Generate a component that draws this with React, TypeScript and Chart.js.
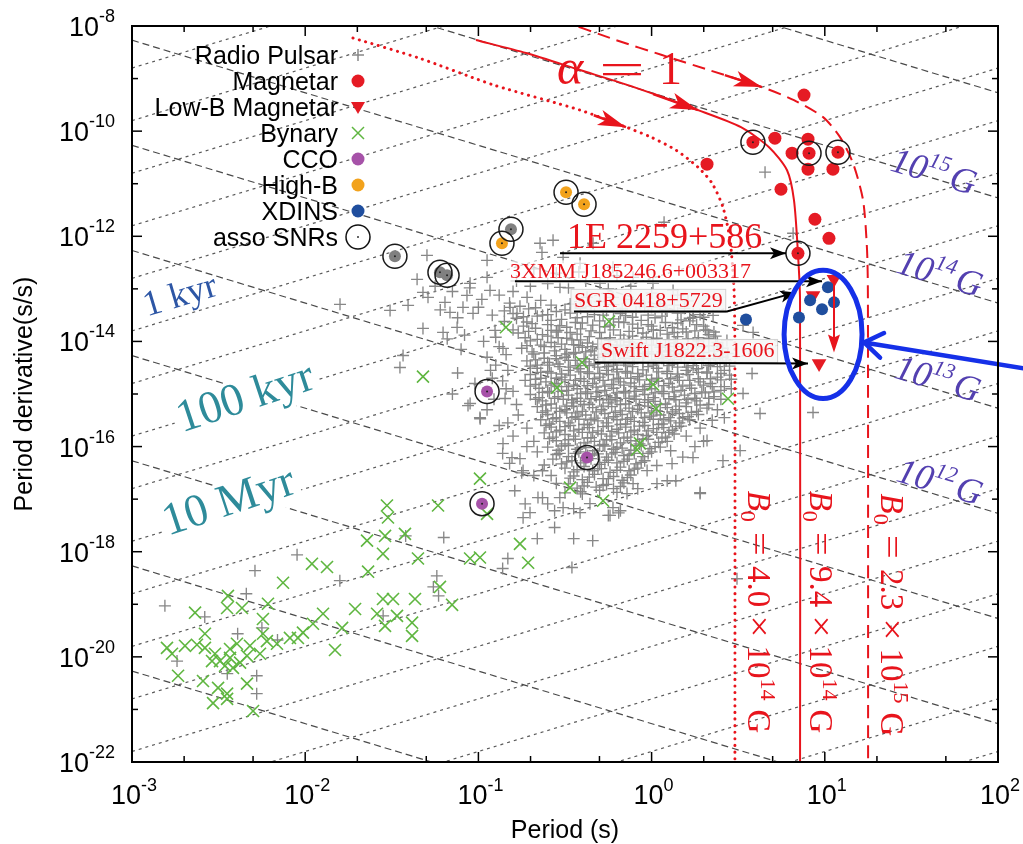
import React, { useEffect, useRef } from "react";
import { Chart, registerables } from "chart.js";

Chart.register(...registerables);

// ---------- axes ----------
const xRange = [1e-3, 1e2];
const yRange = [1e-22, 1e-8];
const xTickExponents = [-3, -2, -1, 0, 1, 2];
const yTickExponents = [-8, -10, -12, -14, -16, -18, -20, -22];
const xMinorMantissas = [2, 5];

// ---------- guide lines: [log10 Pdot at P = xRange[0], log10 Pdot at P = xRange[1]] ----------
const bFieldLines: [number, number][] = [
  [-4.27, -9.27], [-6.27, -11.27], [-8.27, -13.27], [-10.27, -15.27], [-12.27, -17.27],
  [-14.27, -19.27], [-16.27, -21.27], [-18.27, -23.27], [-20.27, -25.27],
];
const ageLines: [number, number][] = [
  [-8.8, -3.8], [-9.8, -4.8], [-10.8, -5.8], [-11.8, -6.8], [-12.8, -7.8], [-13.8, -8.8],
  [-14.8, -9.8], [-15.8, -10.8], [-16.8, -11.8], [-17.8, -12.8], [-18.8, -13.8], [-19.8, -14.8],
  [-20.8, -15.8], [-21.8, -16.8], [-22.8, -17.8], [-23.8, -18.8], [-24.8, -19.8], [-25.8, -20.8],
  [-26.8, -21.8],
];

// ---------- evolutionary tracks (log10 P, log10 Pdot) ----------
const trackDotted: [number, number][] = [
  [-1.724, -8.229], [-1.343, -8.61], [-0.91, -9.124], [-0.413, -9.6], [-0.148, -9.924], [-0.003, -10.114],
  [0.141, -10.362], [0.268, -10.686], [0.349, -10.99], [0.412, -11.448], [0.453, -12.076], [0.476, -13.029],
  [0.481, -14.362], [0.481, -22.5],
];
const trackSolid: [number, number][] = [
  [-1.014, -8.267], [-0.725, -8.514], [-0.413, -8.838], [-0.102, -9.162], [0.268, -9.6], [0.516, -9.924],
  [0.678, -10.305], [0.782, -10.743], [0.822, -11.314], [0.845, -12.324], [0.857, -13.219], [0.857, -22.5],
];
const trackDashed: [number, number][] = [
  [-0.529, -7.886], [-0.206, -8.267], [0.06, -8.552], [0.331, -8.838], [0.637, -9.162], [0.822, -9.41],
  [0.99, -9.733], [1.088, -10.114], [1.163, -10.61], [1.221, -11.314], [1.244, -12.267], [1.249, -13.219],
  [1.25, -22.5],
];
const trackArrowFrom: [number, number][] = [[-0.413, -9.6], [-0.102, -9.162], [0.331, -8.838]];
const trackArrowTip: [number, number][] = [[-0.148, -9.924], [0.268, -9.6], [0.637, -9.162]];

// ---------- populations (log10 P, log10 Pdot) ----------
const magnetars: [number, number][] = [
  [0.32, -10.629], [0.585, -10.21], [0.712, -10.133], [0.903, -10.152], [0.88, -9.314], [0.811, -10.419],
  [0.909, -10.419], [1.076, -10.4], [0.903, -10.724], [1.047, -10.724], [0.747, -11.105], [0.943, -11.676],
  [1.024, -12.038], [0.845, -12.324],
];
const lowBMagnetars: [number, number][] = [[1.053, -12.819], [0.932, -13.124], [0.967, -14.419]];
const xdins: [number, number][] = [
  [1.018, -12.971], [0.915, -13.219], [1.053, -13.257], [0.984, -13.39], [0.851, -13.543], [0.545, -13.581],
];
const highB: [number, number][] = [[-0.494, -11.162], [-0.39, -11.39], [-0.864, -12.133]];
const cco: [number, number][] = [[-0.95, -14.952], [-0.373, -16.21], [-0.979, -17.086]];
const snrPulsars: [number, number][] = [[-1.482, -12.381], [-1.222, -12.686], [-1.181, -12.743], [-0.812, -11.867]];
const assoSNRs: [number, number][] = [
  [0.585, -10.21], [0.909, -10.419], [1.076, -10.4], [0.845, -12.324],
  [-0.494, -11.162], [-0.39, -11.39], [-0.864, -12.133],
  [-1.482, -12.381], [-1.222, -12.686], [-1.181, -12.743], [-0.812, -11.867],
  [-0.95, -14.952], [-0.373, -16.21], [-0.979, -17.086],
];
const binaries: [number, number][] = [
  [-1.528, -17.12], [-1.522, -17.35], [-1.233, -17.12], [-0.95, -17.28], [-0.471, -16.78], [-0.28, -17.03],
  [-1.643, -17.79], [-1.539, -17.7], [-1.424, -17.66], [-1.551, -18.04], [-1.349, -18.13], [-1.048, -18.13],
  [-0.991, -18.11], [-0.76, -17.85], [-0.713, -18.21], [-1.961, -18.23], [-1.874, -18.29], [-2.128, -18.59],
  [-1.637, -18.38], [-1.222, -18.67], [-1.152, -19.01], [-2.446, -18.84], [-2.451, -19.07], [-2.365, -19.07],
  [-2.215, -18.99], [-2.636, -19.16], [-2.244, -19.28], [-1.897, -19.18], [-1.712, -19.09], [-1.551, -18.9],
  [-1.493, -18.9], [-1.366, -18.9], [-1.585, -19.18], [-1.47, -19.22], [-1.383, -19.35], [-1.383, -19.6],
  [-1.539, -19.41], [-1.787, -19.45], [-1.955, -19.37], [-2.013, -19.54], [-2.088, -19.64], [-2.042, -19.64],
  [-2.244, -19.56], [-2.221, -19.7], [-1.828, -19.87], [-2.579, -19.56], [-2.694, -19.79], [-2.625, -19.77],
  [-2.798, -19.83], [-2.769, -19.94], [-2.521, -19.94], [-2.492, -20.08], [-2.434, -20.02], [-2.376, -20.11],
  [-2.336, -19.98], [-2.261, -19.94], [-2.434, -19.85], [-2.394, -19.75], [-2.734, -20.36], [-2.59, -20.46],
  [-2.503, -20.59], [-2.451, -20.7], [-2.532, -20.88], [-2.451, -20.8], [-2.336, -20.51], [-2.301, -21.03],
  [-2.579, -19.83], [-2.538, -20.08], [-2.463, -20.17], [-2.417, -20.21], [-2.319, -19.79], [-2.163, -19.75],
  [-0.841, -13.73], [-0.246, -13.62], [-0.402, -14.4], [-0.546, -14.88], [0.008, -14.82], [0.026, -15.28],
  [0.441, -15.09], [-0.067, -15.94], [-0.084, -16.06], [-1.32, -14.67], [-0.991, -16.61],
];
const radioPulsarsCore: [number, number][] = [
  [-0.82, -13.27], [-0.64, -13.22], [-0.47, -13.29], [-0.3, -13.24], [-0.12, -13.2], [0.05, -13.28], [0.21, -13.23],
  [-0.85, -13.42], [-0.71, -13.38], [-0.55, -13.43], [-0.41, -13.37], [-0.26, -13.41], [-0.09, -13.44], [0.08, -13.39], [0.24, -13.42],
  [-0.78, -13.56], [-0.66, -13.52], [-0.52, -13.58], [-0.37, -13.53], [-0.22, -13.57], [-0.15, -13.51], [0.02, -13.55], [0.17, -13.59], [0.3, -13.54],
  [-0.74, -13.71], [-0.6, -13.68], [-0.49, -13.73], [-0.34, -13.69], [-0.27, -13.72], [-0.11, -13.67], [0.0, -13.71], [0.12, -13.74], [0.26, -13.68],
  [-0.77, -13.84], [-0.63, -13.87], [-0.55, -13.82], [-0.43, -13.86], [-0.3, -13.83], [-0.18, -13.88], [-0.05, -13.84], [0.09, -13.86], [0.2, -13.82], [0.33, -13.87],
  [-0.7, -13.99], [-0.58, -14.02], [-0.46, -13.97], [-0.37, -14.03], [-0.24, -13.98], [-0.13, -14.01], [0.01, -13.96], [0.14, -14.03], [0.27, -13.99], [0.38, -14.02],
  [-0.75, -14.13], [-0.62, -14.1], [-0.5, -14.15], [-0.4, -14.11], [-0.29, -14.14], [-0.2, -14.09], [-0.08, -14.13], [0.05, -14.11], [0.18, -14.15], [0.3, -14.1], [0.41, -14.13],
  [-0.68, -14.24], [-0.55, -14.27], [-0.44, -14.22], [-0.33, -14.26], [-0.22, -14.23], [-0.1, -14.28], [0.0, -14.24], [0.11, -14.26], [0.23, -14.22], [0.36, -14.27],
  [-0.72, -14.37], [-0.6, -14.4], [-0.48, -14.36], [-0.38, -14.39], [-0.27, -14.41], [-0.16, -14.37], [-0.05, -14.4], [0.07, -14.36], [0.19, -14.39], [0.29, -14.41], [0.43, -14.37],
  [-0.66, -14.51], [-0.53, -14.48], [-0.42, -14.52], [-0.31, -14.49], [-0.2, -14.53], [-0.11, -14.48], [0.03, -14.51], [0.15, -14.49], [0.26, -14.52], [0.38, -14.48],
  [-0.7, -14.63], [-0.58, -14.6], [-0.47, -14.64], [-0.36, -14.61], [-0.25, -14.63], [-0.14, -14.6], [-0.03, -14.64], [0.09, -14.61], [0.21, -14.63], [0.32, -14.6], [0.45, -14.64],
  [-0.73, -14.74], [-0.61, -14.77], [-0.5, -14.73], [-0.39, -14.76], [-0.28, -14.74], [-0.18, -14.77], [-0.07, -14.73], [0.04, -14.76], [0.16, -14.74], [0.28, -14.77], [0.4, -14.73],
  [-0.65, -14.89], [-0.54, -14.86], [-0.43, -14.9], [-0.32, -14.87], [-0.22, -14.89], [-0.1, -14.86], [0.0, -14.9], [0.12, -14.87], [0.23, -14.89], [0.35, -14.86], [0.46, -14.9],
  [-0.7, -15.01], [-0.59, -14.98], [-0.48, -15.02], [-0.37, -14.99], [-0.26, -15.03], [-0.15, -14.98], [-0.04, -15.01], [0.07, -14.99], [0.19, -15.02], [0.31, -14.98],
  [-0.63, -15.13], [-0.51, -15.1], [-0.41, -15.14], [-0.3, -15.11], [-0.2, -15.13], [-0.09, -15.1], [0.02, -15.14], [0.14, -15.11], [0.26, -15.13], [0.4, -15.1],
  [-0.66, -15.24], [-0.55, -15.27], [-0.45, -15.23], [-0.34, -15.26], [-0.23, -15.24], [-0.13, -15.27], [-0.02, -15.23], [0.09, -15.26], [0.2, -15.24], [0.32, -15.27],
  [-0.6, -15.39], [-0.49, -15.36], [-0.38, -15.4], [-0.27, -15.37], [-0.17, -15.39], [-0.06, -15.36], [0.05, -15.4], [0.16, -15.37], [0.27, -15.39],
  [-0.64, -15.49], [-0.53, -15.52], [-0.42, -15.48], [-0.31, -15.51], [-0.2, -15.49], [-0.1, -15.52], [0.01, -15.48], [0.11, -15.51], [0.22, -15.49],
  [-0.58, -15.63], [-0.47, -15.6], [-0.36, -15.64], [-0.25, -15.61], [-0.15, -15.63], [-0.04, -15.6], [0.07, -15.64], [0.17, -15.61],
  [-0.62, -15.74], [-0.5, -15.77], [-0.4, -15.73], [-0.29, -15.76], [-0.19, -15.74], [-0.08, -15.77], [0.03, -15.73], [0.13, -15.76],
  [-0.55, -15.89], [-0.44, -15.86], [-0.33, -15.9], [-0.23, -15.87], [-0.12, -15.89], [-0.02, -15.86], [0.09, -15.9],
  [-0.6, -16.01], [-0.48, -15.98], [-0.38, -16.02], [-0.27, -15.99], [-0.17, -16.03], [-0.06, -15.98], [0.05, -16.01],
  [-0.53, -16.13], [-0.42, -16.1], [-0.31, -16.14], [-0.21, -16.11], [-0.1, -16.13], [0.0, -16.1],
  [-0.57, -16.24], [-0.46, -16.27], [-0.35, -16.23], [-0.25, -16.26], [-0.14, -16.24], [-0.04, -16.27],
  [-0.5, -16.41], [-0.39, -16.38], [-0.29, -16.42], [-0.18, -16.39], [-0.08, -16.41],
  [-0.45, -16.56], [-0.33, -16.53], [-0.22, -16.57], [-0.12, -16.54],
  [-0.48, -16.71], [-0.37, -16.68], [-0.26, -16.72], [-0.16, -16.69],
  [-0.41, -16.86], [-0.3, -16.83], [-0.2, -16.87],
];
const radioPulsarsCoreB: [number, number][] = [
  [-0.76, -13.33], [-0.58, -13.31], [-0.41, -13.35], [-0.22, -13.3], [-0.04, -13.34], [0.13, -13.31],
  [-0.8, -13.47], [-0.63, -13.5], [-0.47, -13.46], [-0.33, -13.49], [-0.18, -13.47], [-0.02, -13.5], [0.15, -13.46], [0.28, -13.49],
  [-0.72, -13.63], [-0.58, -13.6], [-0.44, -13.64], [-0.3, -13.61], [-0.19, -13.63], [-0.06, -13.6], [0.08, -13.64], [0.22, -13.61],
  [-0.8, -13.78], [-0.67, -13.75], [-0.54, -13.79], [-0.41, -13.76], [-0.22, -13.78], [-0.08, -13.75], [0.05, -13.79], [0.18, -13.76], [0.31, -13.78],
  [-0.73, -13.93], [-0.6, -13.9], [-0.49, -13.94], [-0.36, -13.91], [-0.24, -13.93], [-0.11, -13.9], [0.03, -13.94], [0.15, -13.91], [0.27, -13.93], [0.37, -13.9],
  [-0.64, -14.07], [-0.52, -14.05], [-0.42, -14.08], [-0.31, -14.05], [-0.18, -14.07], [-0.06, -14.04], [0.08, -14.07], [0.21, -14.05], [0.33, -14.08],
  [-0.69, -14.2], [-0.56, -14.18], [-0.45, -14.21], [-0.35, -14.18], [-0.24, -14.2], [-0.14, -14.17], [-0.02, -14.2], [0.1, -14.18], [0.24, -14.21], [0.36, -14.18],
  [-0.62, -14.32], [-0.5, -14.3], [-0.39, -14.33], [-0.28, -14.3], [-0.16, -14.32], [-0.05, -14.29], [0.06, -14.32], [0.17, -14.3], [0.3, -14.33], [0.41, -14.3],
  [-0.66, -14.45], [-0.54, -14.43], [-0.43, -14.46], [-0.33, -14.43], [-0.22, -14.45], [-0.11, -14.42], [0.01, -14.45], [0.12, -14.43], [0.24, -14.46], [0.34, -14.43],
  [-0.6, -14.57], [-0.48, -14.55], [-0.37, -14.58], [-0.26, -14.55], [-0.15, -14.57], [-0.05, -14.54], [0.09, -14.57], [0.2, -14.55], [0.32, -14.58], [0.42, -14.55],
  [-0.64, -14.7], [-0.52, -14.68], [-0.41, -14.71], [-0.3, -14.68], [-0.19, -14.7], [-0.08, -14.67], [0.03, -14.7], [0.15, -14.68], [0.27, -14.71], [0.38, -14.68],
  [-0.67, -14.82], [-0.56, -14.8], [-0.45, -14.83], [-0.34, -14.8], [-0.23, -14.82], [-0.12, -14.79], [-0.01, -14.82], [0.1, -14.8], [0.22, -14.83], [0.34, -14.8],
  [-0.6, -14.95], [-0.49, -14.93], [-0.38, -14.96], [-0.27, -14.93], [-0.16, -14.95], [-0.05, -14.92], [0.06, -14.95], [0.17, -14.93], [0.29, -14.96], [0.4, -14.93],
  [-0.65, -15.07], [-0.54, -15.05], [-0.43, -15.08], [-0.32, -15.05], [-0.21, -15.07], [-0.1, -15.04], [0.01, -15.07], [0.13, -15.05], [0.25, -15.08], [0.36, -15.05],
  [-0.58, -15.19], [-0.46, -15.17], [-0.36, -15.2], [-0.25, -15.17], [-0.15, -15.19], [-0.04, -15.16], [0.08, -15.19], [0.2, -15.17], [0.33, -15.2],
  [-0.61, -15.32], [-0.5, -15.3], [-0.4, -15.33], [-0.29, -15.3], [-0.18, -15.32], [-0.08, -15.29], [0.03, -15.32], [0.14, -15.3], [0.26, -15.33],
  [-0.55, -15.45], [-0.44, -15.43], [-0.33, -15.46], [-0.22, -15.43], [-0.12, -15.45], [-0.01, -15.42], [0.1, -15.45], [0.21, -15.43],
  [-0.59, -15.57], [-0.48, -15.55], [-0.37, -15.58], [-0.26, -15.55], [-0.15, -15.57], [-0.05, -15.54], [0.06, -15.57], [0.16, -15.55],
  [-0.53, -15.69], [-0.42, -15.67], [-0.31, -15.7], [-0.2, -15.67], [-0.1, -15.69], [0.01, -15.66], [0.12, -15.69],
  [-0.57, -15.82], [-0.45, -15.8], [-0.35, -15.83], [-0.24, -15.8], [-0.14, -15.82], [-0.03, -15.79], [0.08, -15.82],
  [-0.5, -15.95], [-0.39, -15.93], [-0.28, -15.96], [-0.18, -15.93], [-0.07, -15.95], [0.04, -15.92],
  [-0.54, -16.07], [-0.43, -16.05], [-0.33, -16.08], [-0.22, -16.05], [-0.12, -16.07], [-0.01, -16.04],
  [-0.48, -16.19], [-0.37, -16.17], [-0.26, -16.2], [-0.16, -16.17], [-0.05, -16.19],
  [-0.52, -16.33], [-0.41, -16.31], [-0.3, -16.34], [-0.2, -16.31], [-0.09, -16.33],
  [-0.45, -16.48], [-0.34, -16.46], [-0.24, -16.49], [-0.13, -16.46],
  [-0.4, -16.63], [-0.28, -16.61], [-0.17, -16.64],
  [-0.43, -16.79], [-0.32, -16.77], [-0.22, -16.8],
];
const radioPulsarsCoreC: [number, number][] = [
  [-0.67, -13.36], [-0.5, -13.4], [-0.35, -13.33], [-0.17, -13.38], [0.0, -13.35], [0.19, -13.37],
  [-0.74, -13.53], [-0.6, -13.49], [-0.43, -13.55], [-0.28, -13.5], [-0.11, -13.54], [0.06, -13.52], [0.22, -13.56],
  [-0.69, -13.66], [-0.53, -13.7], [-0.4, -13.65], [-0.24, -13.69], [-0.16, -13.64], [-0.02, -13.68], [0.15, -13.65], [0.3, -13.71],
  [-0.71, -13.81], [-0.58, -13.79], [-0.47, -13.83], [-0.35, -13.8], [-0.13, -13.81], [0.01, -13.78], [0.13, -13.83], [0.25, -13.8], [0.36, -13.82],
  [-0.66, -13.96], [-0.54, -13.93], [-0.41, -13.97], [-0.29, -13.94], [-0.16, -13.96], [-0.03, -13.92], [0.1, -13.97], [0.21, -13.95], [0.33, -13.94],
  [-0.72, -14.08], [-0.56, -14.1], [-0.45, -14.06], [-0.34, -14.1], [-0.25, -14.06], [-0.12, -14.09], [0.0, -14.07], [0.13, -14.1], [0.26, -14.06], [0.38, -14.09],
  [-0.62, -14.22], [-0.49, -14.24], [-0.38, -14.2], [-0.27, -14.24], [-0.16, -14.21], [-0.04, -14.23], [0.06, -14.2], [0.17, -14.24], [0.3, -14.21], [0.44, -14.23],
  [-0.67, -14.35], [-0.55, -14.33], [-0.44, -14.36], [-0.33, -14.34], [-0.21, -14.35], [-0.1, -14.33], [0.02, -14.36], [0.13, -14.34], [0.25, -14.35], [0.37, -14.33],
  [-0.7, -14.47], [-0.59, -14.45], [-0.47, -14.49], [-0.36, -14.46], [-0.25, -14.48], [-0.15, -14.45], [-0.02, -14.48], [0.1, -14.46], [0.21, -14.49], [0.33, -14.46], [0.45, -14.47],
  [-0.64, -14.59], [-0.52, -14.62], [-0.41, -14.58], [-0.3, -14.61], [-0.2, -14.58], [-0.08, -14.61], [0.04, -14.58], [0.15, -14.62], [0.27, -14.59], [0.4, -14.61],
  [-0.67, -14.72], [-0.55, -14.7], [-0.44, -14.74], [-0.33, -14.71], [-0.22, -14.73], [-0.12, -14.7], [0.0, -14.73], [0.11, -14.71], [0.22, -14.74], [0.34, -14.71], [0.46, -14.72],
  [-0.7, -14.85], [-0.58, -14.83], [-0.48, -14.86], [-0.37, -14.84], [-0.27, -14.85], [-0.16, -14.83], [-0.04, -14.86], [0.07, -14.84], [0.18, -14.85], [0.3, -14.83], [0.42, -14.86],
  [-0.63, -14.97], [-0.52, -14.95], [-0.41, -14.99], [-0.31, -14.96], [-0.2, -14.98], [-0.09, -14.95], [0.02, -14.98], [0.13, -14.96], [0.25, -14.99], [0.36, -14.96],
  [-0.67, -15.1], [-0.56, -15.08], [-0.46, -15.11], [-0.35, -15.09], [-0.24, -15.1], [-0.13, -15.08], [-0.02, -15.11], [0.1, -15.09], [0.21, -15.1], [0.33, -15.08],
  [-0.61, -15.21], [-0.49, -15.23], [-0.39, -15.2], [-0.28, -15.23], [-0.18, -15.2], [-0.07, -15.22], [0.05, -15.2], [0.16, -15.23], [0.28, -15.21],
  [-0.63, -15.35], [-0.53, -15.33], [-0.43, -15.36], [-0.32, -15.34], [-0.21, -15.35], [-0.11, -15.33], [0.0, -15.36], [0.12, -15.34], [0.23, -15.35],
  [-0.57, -15.47], [-0.46, -15.45], [-0.35, -15.49], [-0.25, -15.46], [-0.14, -15.48], [-0.04, -15.45], [0.07, -15.48], [0.18, -15.46],
  [-0.61, -15.6], [-0.5, -15.62], [-0.39, -15.58], [-0.28, -15.62], [-0.18, -15.58], [-0.07, -15.61], [0.04, -15.58], [0.14, -15.62],
  [-0.55, -15.72], [-0.45, -15.7], [-0.34, -15.73], [-0.23, -15.71], [-0.12, -15.72], [-0.02, -15.7], [0.1, -15.73],
  [-0.59, -15.85], [-0.48, -15.87], [-0.37, -15.84], [-0.26, -15.87], [-0.16, -15.84], [-0.05, -15.86], [0.06, -15.84],
  [-0.52, -15.99], [-0.41, -16.02], [-0.3, -15.98], [-0.2, -16.01], [-0.09, -15.98], [0.02, -16.0],
  [-0.55, -16.15], [-0.44, -16.13], [-0.34, -16.16], [-0.23, -16.14], [-0.13, -16.16], [-0.02, -16.13],
  [-0.49, -16.29], [-0.38, -16.27], [-0.27, -16.3], [-0.16, -16.28], [-0.06, -16.3],
  [-0.43, -16.44], [-0.31, -16.42], [-0.2, -16.45], [-0.1, -16.43],
  [-0.47, -16.6], [-0.36, -16.58], [-0.25, -16.61], [-0.14, -16.59],
  [-0.39, -16.75], [-0.28, -16.74], [-0.18, -16.76],
];
const radioPulsarsOuter: [number, number][] = [
  [-1.297, -12.362], [-0.95, -12.457], [-0.633, -12.305], [-1.51, -13.41], [-1.406, -13.314], [-1.32, -13.752],
  [-1.435, -14.267], [-1.453, -14.495], [-1.32, -13.067], [-1.193, -13.257], [-1.164, -13.448], [-1.123, -13.733],
  [-1.066, -13.124], [-1.031, -13.467], [-0.95, -12.781], [-0.933, -13.029], [-0.904, -13.79], [-0.858, -14.133],
  [-0.817, -13.352], [-0.777, -13.467], [-0.719, -13.162], [-1.048, -15.181], [-0.991, -15.448], [-0.846, -15.086],
  [-0.858, -15.943], [-0.806, -16.21], [-0.742, -16.457], [-0.656, -16.971], [-0.702, -17.257], [-0.742, -17.352],
  [-0.511, -17.162], [-0.413, -17.257], [-0.356, -17.086], [-0.223, -17.162], [-0.142, -16.895], [-0.107, -16.705],
  [-0.026, -16.457], [0.031, -16.705], [0.118, -16.324], [0.239, -16.21], [0.28, -16.895], [0.412, -16.267],
  [0.511, -16.076], [0.528, -14.99], [0.58, -14.61], [0.395, -14.4], [0.435, -13.981], [0.528, -13.695],
  [0.586, -13.829], [0.355, -13.505], [0.124, -13.029], [0.008, -12.895], [-0.107, -12.781], [-0.223, -12.59],
  [-0.413, -12.514], [-0.511, -12.4], [-0.338, -12.133], [-0.644, -12.133], [-0.569, -12.076], [-0.298, -12.895],
  [-0.529, -12.971], [-0.373, -13.162], [-0.223, -13.162], [-0.067, -13.276], [0.089, -13.41], [0.239, -13.543],
  [0.32, -13.79], [0.655, -10.78], [0.072, -11.733], [0.817, -11.943], [0.626, -15.371], [0.932, -15.352],
  [0.32, -15.886], [0.28, -16.876], [0.493, -18.514], [-1.799, -13.295], [-1.354, -12.819], [-1.291, -13.162],
  [-1.048, -12.895], [-1.089, -13.352], [-1.204, -13.829],
  [-1.25, -12.95], [-1.15, -13.05], [-1.05, -12.98], [-0.98, -13.2], [-0.88, -13.12], [-0.8, -13.05],
  [-1.22, -13.4], [-1.12, -13.55], [-1.0, -13.35], [-0.92, -13.5], [-0.85, -13.62], [-1.18, -13.95],
  [-1.08, -13.88], [-0.97, -14.0], [-0.9, -13.92], [-0.84, -14.25], [-0.95, -14.3], [-1.1, -14.15],
  [-0.78, -12.85], [-0.7, -12.95], [-0.6, -12.9], [-0.48, -12.98], [-0.38, -12.85], [-0.25, -13.0],
  [-0.12, -12.95], [0.0, -13.08], [0.15, -13.12], [-0.68, -12.62], [-0.55, -12.7], [-0.42, -12.68], [-0.2, -12.75],
  [-1.12, -14.6], [-1.02, -14.8], [-0.92, -14.7], [-0.84, -14.9], [-0.95, -15.3], [-0.88, -15.6],
  [-0.8, -15.8], [-0.78, -15.2], [-0.72, -16.0], [-0.9, -14.45], [-1.15, -15.0], [-0.83, -14.55],
  [-0.88, -14.1], [-0.93, -14.55], [-0.86, -14.75], [-0.8, -14.95], [-0.91, -15.1], [-0.77, -15.4],
  [-0.83, -15.55], [-0.72, -15.65], [-0.68, -15.9], [-0.66, -16.1], [-0.62, -16.35], [-0.58, -16.55],
  [-0.55, -16.7], [-0.5, -16.88], [0.2, -15.8], [0.28, -15.65], [0.35, -15.5], [0.25, -16.0],
  [0.18, -16.2], [0.3, -15.9], [0.38, -15.3], [0.42, -15.45],
  [-2.047, -18.06], [-2.29, -18.36], [-1.8, -18.55], [-2.34, -18.8], [-2.81, -19.03], [-2.58, -19.24],
  [-2.25, -19.45], [-2.74, -20.08], [-2.45, -20.32], [-2.28, -20.36], [-2.28, -20.7], [-2.16, -19.68],
  [-2.39, -19.56], [-1.2, -17.73], [-1.24, -18.46], [-1.26, -18.67], [-1.23, -18.84], [-0.83, -18.13],
  [-0.86, -18.32], [-0.46, -18.3], [-0.79, -16.84], [-0.73, -17.09], [-0.66, -17.75], [-0.56, -17.54],
  [-0.45, -17.75], [-0.34, -17.79], [-0.25, -17.31], [-0.19, -17.26], [-0.63, -16.97], [-0.53, -16.97],
  [-0.45, -17.18], [-1.55, -19.22], [-0.99, -15.47], [-1.06, -15.22], [-0.86, -16.13], [-0.82, -16.32],
  [-0.76, -16.23], [-0.75, -16.5], [-0.68, -16.55], [-0.63, -16.46], [-0.4, -16.9], [-0.24, -17.31],
  [-0.18, -17.22], [-0.08, -16.8], [0.03, -16.36], [0.11, -16.08], [0.09, -16.65], [0.14, -16.65],
  [-0.56, -17.22], [-0.6, -17.09], [-1.42, -17.7],
];

// ---------- annotations (anchors in log10 P, log10 Pdot) ----------
const legendLabels = ["Radio Pulsar", "Magnetar", "Low-B Magnetar", "Bynary", "CCO", "High-B", "XDINS", "asso SNRs"];
const alphaAnchor: [number, number] = [-0.535, -9.105];
const sourceNames = ["1E 2259+586", "3XMM J185246.6+003317", "SGR 0418+5729", "Swift J1822.3-1606"];
const sourceLabelAnchor: [number, number][] = [[-0.488, -12.229], [-0.817, -12.8], [-0.448, -13.352], [-0.292, -14.305]];
const sourceArrowPaths: [number, number][][] = [
  [[-0.529, -12.324], [0.776, -12.324]],
  [[-0.789, -12.857], [0.984, -12.857]],
  [[-0.448, -13.429], [0.435, -13.429], [0.834, -13.067]],
  [[-0.327, -14.4], [0.903, -14.419]],
];
const upperLimitArrow: [number, number][] = [[1.053, -12.819], [1.053, -14.21]];
const highlightEllipse = { lp: [0.765, 1.215], ld: [-12.648, -15.086] };
const highlightArrow: [number, number][] = [[2.185, -14.533], [1.227, -14.019]];
const bLabelExp = ["15", "14", "13", "12"];
const bLabelAnchor: [number, number][] = [[1.371, -10.743], [1.406, -12.686], [1.394, -14.686], [1.406, -16.648]];
const b0Mantissa = ["4.0", "9.4", "2.3"];
const b0Exp = ["14", "14", "15"];
const b0Anchor: [number, number][] = [[0.557, -16.838], [0.915, -16.838], [1.325, -16.895]];
const ageLabelText = ["1 kyr", "100 kyr", "10 Myr"];
const ageLabelAnchor: [number, number][] = [[-2.913, -13.524], [-2.711, -15.733], [-2.792, -17.695]];

// ---------- styles ----------
const SANS = '"Liberation Sans", Arial, Helvetica, sans-serif';
const SERIF = '"Liberation Serif", "Times New Roman", Times, serif';
const RED = "#e8141c";
const C_PULSAR = "#878787";
const C_MAG = "#e51b24";
const C_BIN = "#5fb640";
const C_CCO = "#a652a8";
const C_HIGHB = "#f2a21c";
const C_XDINS = "#1f4e9e";

const toPts = (arr: [number, number][]) => arr.map(([lp, ld]) => ({ x: Math.pow(10, lp), y: Math.pow(10, ld) }));

type Seg = { t: string; font: string; dy?: number; sx?: number; gap?: number };
function drawSegs(ctx: CanvasRenderingContext2D, segs: Seg[], x: number, y: number) {
  let cx = x;
  for (const s of segs) {
    ctx.font = s.font;
    const w = ctx.measureText(s.t).width;
    const sx = s.sx ?? 1;
    ctx.save();
    ctx.translate(cx, y + (s.dy ?? 0));
    ctx.scale(sx, 1);
    ctx.fillText(s.t, 0, 0);
    ctx.restore();
    cx += w * sx + (s.gap ?? 0);
  }
  return cx - x;
}
function arrowHead(ctx: CanvasRenderingContext2D, x0: number, y0: number, x1: number, y1: number, len: number, half: number, notch = 0) {
  const a = Math.atan2(y1 - y0, x1 - x0);
  const c = Math.cos(a), s = Math.sin(a);
  const bx = x1 - len * c, by = y1 - len * s;
  ctx.beginPath();
  ctx.moveTo(x1, y1);
  ctx.lineTo(bx - half * s, by + half * c);
  ctx.lineTo(x1 - (len - notch) * c, y1 - (len - notch) * s);
  ctx.lineTo(bx + half * s, by - half * c);
  ctx.closePath();
  ctx.fill();
}

const overlayPlugin = {
  id: "ppdotOverlay",
  afterDatasetsDraw(chart: any) {
    const ctx: CanvasRenderingContext2D = chart.ctx;
    const X = (lp: number) => chart.scales.x.getPixelForValue(Math.pow(10, lp));
    const Y = (ld: number) => chart.scales.y.getPixelForValue(Math.pow(10, ld));
    ctx.save();
    ctx.textAlign = "left";
    ctx.textBaseline = "alphabetic";

    // age labels
    ageLabelText.forEach((t, i) => {
      const [lp, ld] = ageLabelAnchor[i];
      const x = X(lp), y = Y(ld);
      const isBlue = i === 0;
      const size = isBlue ? 36 : 46;
      const ang = isBlue ? -0.29 : -0.32;
      ctx.save();
      ctx.translate(x, y);
      ctx.rotate(ang);
      ctx.font = `${size}px ${SERIF}`;
      const w = ctx.measureText(t).width;
      if (!isBlue) {
        ctx.fillStyle = "#ffffff";
        ctx.fillRect(-4, -size * 0.72, w + 8, size * 0.95);
      }
      ctx.fillStyle = isBlue ? "#2d56a5" : "#2e8b9a";
      ctx.fillText(t, 0, 0);
      ctx.restore();
    });

    // B-field labels
    bLabelExp.forEach((e, i) => {
      const [lp, ld] = bLabelAnchor[i];
      ctx.save();
      ctx.translate(X(lp), Y(ld));
      ctx.rotate(0.29);
      ctx.fillStyle = "#5340b0";
      drawSegs(ctx, [
        { t: "10", font: `italic 36px ${SERIF}` },
        { t: e, font: `italic 22px ${SERIF}`, dy: -15, gap: 3 },
        { t: "G", font: `italic 36px ${SERIF}` },
      ], 0, 0);
      ctx.restore();
    });

    // B0 vertical labels
    b0Mantissa.forEach((m, i) => {
      const [lp, ld] = b0Anchor[i];
      ctx.save();
      ctx.translate(X(lp), Y(ld));
      ctx.rotate(Math.PI / 2);
      ctx.fillStyle = RED;
      const f = `33px ${SERIF}`;
      const fs = `22px ${SERIF}`;
      drawSegs(ctx, [
        { t: "B", font: `italic ${f}` },
        { t: "0", font: fs, dy: 7, gap: 10 },
        { t: "=", font: f, sx: 1.3, gap: 10 },
        { t: m, font: f, gap: 8 },
        { t: "×", font: f, sx: 1.2, gap: 8 },
        { t: "10", font: f },
        { t: b0Exp[i], font: fs, dy: -13, gap: 9 },
        { t: "G", font: f },
      ], 0, 0);
      ctx.restore();
    });

    // alpha = 1
    {
      const x = X(alphaAnchor[0]), y = Y(alphaAnchor[1]);
      ctx.fillStyle = RED;
      ctx.font = `italic 50px ${SERIF}`;
      ctx.fillText("α", x - 2, y);
      ctx.save();
      ctx.translate(x + 40, y);
      ctx.scale(1.85, 1);
      ctx.font = `44px ${SERIF}`;
      ctx.fillText("=", 0, 0);
      ctx.restore();
      ctx.font = `46px ${SERIF}`;
      ctx.fillText("1", x + 100, y);
    }

    // evolutionary track arrows
    trackArrowFrom.forEach((fr, i) => {
      const x0 = X(fr[0]), y0 = Y(fr[1]);
      const x1 = X(trackArrowTip[i][0]), y1 = Y(trackArrowTip[i][1]);
      ctx.strokeStyle = RED;
      ctx.fillStyle = RED;
      ctx.lineWidth = 2.5;
      ctx.beginPath();
      ctx.moveTo(x0 + (x1 - x0) * 0.3, y0 + (y1 - y0) * 0.3);
      ctx.lineTo(x1, y1);
      ctx.stroke();
      arrowHead(ctx, x0, y0, x1, y1, 28, 8, 7);
    });

    // upper-limit arrow
    {
      const [a, b] = upperLimitArrow;
      const x0 = X(a[0]), y0 = Y(a[1]), x1 = X(b[0]), y1 = Y(b[1]);
      ctx.strokeStyle = RED;
      ctx.fillStyle = RED;
      ctx.lineWidth = 2;
      ctx.beginPath();
      ctx.moveTo(x0, y0);
      ctx.lineTo(x1, y1 - 8);
      ctx.stroke();
      arrowHead(ctx, x0, y0, x1, y1, 18, 6, 3);
    }

    // source labels + arrows
    sourceNames.forEach((name, i) => {
      const [lp, ld] = sourceLabelAnchor[i];
      const x = X(lp), y = Y(ld);
      const size = i === 0 ? 36 : 22;
      ctx.font = `${size}px ${SERIF}`;
      const w = ctx.measureText(name).width;
      if (i > 0) {
        ctx.fillStyle = i === 1 ? "rgba(255,255,255,0.7)" : "rgba(246,246,246,0.9)";
        ctx.fillRect(x - 3, y - 18, w + 6, 23);
        if (i > 1) {
          ctx.strokeStyle = "rgba(200,200,200,0.8)";
          ctx.lineWidth = 1;
          ctx.strokeRect(x - 3, y - 18, w + 6, 23);
        }
      }
      ctx.fillStyle = RED;
      ctx.fillText(name, x, y);
    });
    sourceArrowPaths.forEach((path) => {
      const pts = path.map(([lp, ld]) => [X(lp), Y(ld)]);
      ctx.strokeStyle = "#000";
      ctx.fillStyle = "#000";
      ctx.lineWidth = 2;
      ctx.beginPath();
      pts.forEach(([x, y], k) => (k === 0 ? ctx.moveTo(x, y) : ctx.lineTo(x, y)));
      ctx.stroke();
      const [xa, ya] = pts[pts.length - 2];
      const [xb, yb] = pts[pts.length - 1];
      arrowHead(ctx, xa, ya, xb, yb, 16, 6, 4);
    });

    // highlight ellipse + arrow
    {
      const xl = X(highlightEllipse.lp[0]), xr = X(highlightEllipse.lp[1]);
      const yt = Y(highlightEllipse.ld[0]), yb = Y(highlightEllipse.ld[1]);
      ctx.strokeStyle = "#1530e8";
      ctx.lineWidth = 5;
      ctx.beginPath();
      ctx.ellipse((xl + xr) / 2, (yt + yb) / 2, (xr - xl) / 2, (yb - yt) / 2, 0, 0, Math.PI * 2);
      ctx.stroke();
      const [a, b] = highlightArrow;
      const x0 = X(a[0]), y0 = Y(a[1]), x1 = X(b[0]), y1 = Y(b[1]);
      ctx.lineWidth = 4.5;
      ctx.lineCap = "round";
      ctx.beginPath();
      ctx.moveTo(x0, y0);
      ctx.lineTo(x1, y1);
      ctx.stroke();
      const ang = Math.atan2(y1 - y0, x1 - x0);
      const L = 22;
      ctx.beginPath();
      ctx.moveTo(x1 - L * Math.cos(ang - 0.6), y1 - L * Math.sin(ang - 0.6));
      ctx.lineTo(x1, y1);
      ctx.lineTo(x1 - L * Math.cos(ang + 0.6), y1 - L * Math.sin(ang + 0.6));
      ctx.stroke();
      ctx.lineCap = "butt";
    }
    ctx.restore();
  },
  afterDraw(chart: any) {
    const ctx: CanvasRenderingContext2D = chart.ctx;
    const { left, right, top, bottom } = chart.chartArea;
    const xs = chart.scales.x, ys = chart.scales.y;
    ctx.save();
    ctx.strokeStyle = "#000";
    ctx.lineWidth = 1.5;
    const line = (a: number, b: number, c: number, d: number) => {
      ctx.beginPath();
      ctx.moveTo(a, b);
      ctx.lineTo(c, d);
      ctx.stroke();
    };
    xTickExponents.forEach((e) => {
      [1, ...xMinorMantissas].forEach((m) => {
        const v = m * Math.pow(10, e);
        if (v > xRange[1] * 1.001) return;
        const px = xs.getPixelForValue(v);
        const len = m === 1 ? 10 : 6;
        line(px, bottom, px, bottom - len);
        line(px, top, px, top + len);
      });
    });
    for (let e = -22; e <= -8; e++) {
      const py = ys.getPixelForValue(Math.pow(10, e));
      const len = e % 2 === 0 ? 10 : 6;
      line(left, py, left + len, py);
      line(right, py, right - len, py);
    }
    ctx.lineWidth = 2;
    ctx.strokeRect(left, top, right - left, bottom - top);

    // tick labels
    ctx.fillStyle = "#000";
    ctx.textAlign = "left";
    ctx.textBaseline = "alphabetic";
    const baseFont = `27px ${SANS}`;
    const expFont = `18px ${SANS}`;
    xTickExponents.forEach((e) => {
      const px = xs.getPixelForValue(Math.pow(10, e));
      ctx.font = baseFont;
      const bw = ctx.measureText("10").width;
      ctx.font = expFont;
      const ew = ctx.measureText(String(e)).width;
      const x0 = px - (bw + ew) / 2 + 2;
      ctx.font = baseFont;
      ctx.fillText("10", x0, bottom + 42);
      ctx.font = expFont;
      ctx.fillText(String(e), x0 + bw, bottom + 29);
    });
    yTickExponents.forEach((e) => {
      const py = ys.getPixelForValue(Math.pow(10, e));
      ctx.font = baseFont;
      const bw = ctx.measureText("10").width;
      ctx.font = expFont;
      const ew = ctx.measureText(String(e)).width;
      const xr = left - 17;
      ctx.font = baseFont;
      ctx.fillText("10", xr - ew - bw, py + 10);
      ctx.font = expFont;
      ctx.fillText(String(e), xr - ew, py - 4);
    });

    // axis titles
    ctx.font = `25px ${SANS}`;
    ctx.textAlign = "center";
    ctx.fillText("Period (s)", (left + right) / 2, 838);
    ctx.save();
    ctx.translate(32, (top + bottom) / 2);
    ctx.rotate(-Math.PI / 2);
    ctx.fillText("Period derivative(s/s)", 0, 0);
    ctx.restore();

    // legend
    ctx.textAlign = "right";
    ctx.font = `25px ${SANS}`;
    const textRight = left + 206;
    const sx = left + 226;
    legendLabels.forEach((lab, i) => {
      const y = top + 29 + i * 26;
      ctx.fillStyle = "#000";
      ctx.fillText(lab, textRight, y + 9);
      ctx.lineWidth = 1.5;
      if (i === 0) {
        ctx.strokeStyle = C_PULSAR;
        line(sx - 6, y, sx + 6, y);
        line(sx, y - 6, sx, y + 6);
      } else if (i === 3) {
        ctx.strokeStyle = C_BIN;
        line(sx - 6, y - 6, sx + 6, y + 6);
        line(sx - 6, y + 6, sx + 6, y - 6);
      } else if (i === 2) {
        ctx.fillStyle = C_MAG;
        ctx.beginPath();
        ctx.moveTo(sx - 7, y - 5);
        ctx.lineTo(sx + 7, y - 5);
        ctx.lineTo(sx, y + 7);
        ctx.closePath();
        ctx.fill();
      } else if (i === 7) {
        ctx.strokeStyle = "#111";
        ctx.beginPath();
        ctx.arc(sx, y, 12, 0, Math.PI * 2);
        ctx.stroke();
        ctx.fillStyle = "#333";
        ctx.beginPath();
        ctx.arc(sx, y, 1, 0, Math.PI * 2);
        ctx.fill();
      } else {
        const col = i === 1 ? C_MAG : i === 4 ? C_CCO : i === 5 ? C_HIGHB : C_XDINS;
        ctx.fillStyle = col;
        ctx.beginPath();
        ctx.arc(sx, y, 6.5, 0, Math.PI * 2);
        ctx.fill();
      }
    });
    ctx.restore();
  },
};

function lineDataset(ends: [number, number], color: string, dash: number[]) {
  return {
    data: [
      { x: xRange[0], y: Math.pow(10, ends[0]) },
      { x: xRange[1], y: Math.pow(10, ends[1]) },
    ],
    showLine: true,
    borderColor: color,
    borderWidth: 1.2,
    borderDash: dash,
    pointRadius: 0,
    order: 100,
  };
}
function trackDataset(arr: [number, number][], dash: number[], width: number, cap: string) {
  return {
    data: toPts(arr),
    showLine: true,
    borderColor: RED,
    borderWidth: width,
    borderDash: dash,
    borderCapStyle: cap,
    tension: 0.25,
    pointRadius: 0,
    order: 45,
  };
}
function pointDataset(arr: [number, number][], extra: any) {
  return { data: toPts(arr), showLine: false, order: 20, ...extra };
}

export default function App() {
  const ref = useRef<HTMLCanvasElement>(null);
  useEffect(() => {
    if (!ref.current) return;
    const pulsarStyle = { pointStyle: "cross", pointRadius: 6, borderColor: C_PULSAR, borderWidth: 1.35, order: 50 };
    const datasets: any[] = [
      ...bFieldLines.map((l) => lineDataset(l, "#4a4a4a", [7, 4])),
      ...ageLines.map((l) => lineDataset(l, "#5a5a5a", [3, 4])),
      trackDataset(trackDotted, [0.1, 6.5], 3, "round"),
      trackDataset(trackSolid, [], 2, "butt"),
      trackDataset(trackDashed, [13, 7], 2, "butt"),
      pointDataset(radioPulsarsCore, pulsarStyle),
      pointDataset(radioPulsarsCoreB, pulsarStyle),
      pointDataset(radioPulsarsCoreC, pulsarStyle),
      pointDataset(radioPulsarsOuter, pulsarStyle),
      pointDataset(binaries, { pointStyle: "crossRot", pointRadius: 8.5, borderColor: C_BIN, borderWidth: 1.6, order: 40 }),
      pointDataset(snrPulsars, { pointStyle: "circle", pointRadius: 6, backgroundColor: "#808080", borderColor: "#808080", borderWidth: 0, order: 30 }),
      pointDataset(cco, { pointStyle: "circle", pointRadius: 6, backgroundColor: C_CCO, borderColor: C_CCO, borderWidth: 0 }),
      pointDataset(highB, { pointStyle: "circle", pointRadius: 6, backgroundColor: C_HIGHB, borderColor: C_HIGHB, borderWidth: 0 }),
      pointDataset(xdins, { pointStyle: "circle", pointRadius: 6, backgroundColor: C_XDINS, borderColor: C_XDINS, borderWidth: 0 }),
      pointDataset(magnetars, { pointStyle: "circle", pointRadius: 6.5, backgroundColor: C_MAG, borderColor: C_MAG, borderWidth: 0 }),
      pointDataset(lowBMagnetars, { pointStyle: "triangle", rotation: 180, pointRotation: 180, pointRadius: 8.5, backgroundColor: C_MAG, borderColor: C_MAG, borderWidth: 0 }),
      pointDataset(assoSNRs, { pointStyle: "circle", pointRadius: 12, backgroundColor: "rgba(0,0,0,0)", borderColor: "#1a1a1a", borderWidth: 1.5, order: 10 }),
      pointDataset(assoSNRs, { pointStyle: "circle", pointRadius: 1, backgroundColor: "#222", borderColor: "#222", borderWidth: 0, order: 9 }),
    ];
    const chart = new Chart(ref.current, {
      type: "scatter",
      data: { datasets },
      options: {
        responsive: false,
        animation: false,
        devicePixelRatio: 1,
        events: [],
        layout: { padding: { left: 132, top: 26, right: 25, bottom: 82 } },
        scales: {
          x: { type: "logarithmic", min: xRange[0], max: xRange[1], display: false },
          y: { type: "logarithmic", min: yRange[0], max: yRange[1], display: false },
        },
        plugins: { legend: { display: false }, tooltip: { enabled: false } },
      },
      plugins: [overlayPlugin],
    } as any);
    return () => chart.destroy();
  }, []);
  return (
    <div style={{ position: "absolute", left: 0, top: 0, width: 1023, height: 844, background: "#fff" }}>
      <canvas ref={ref} width={1023} height={844} style={{ width: 1023, height: 844, display: "block" }} />
    </div>
  );
}
